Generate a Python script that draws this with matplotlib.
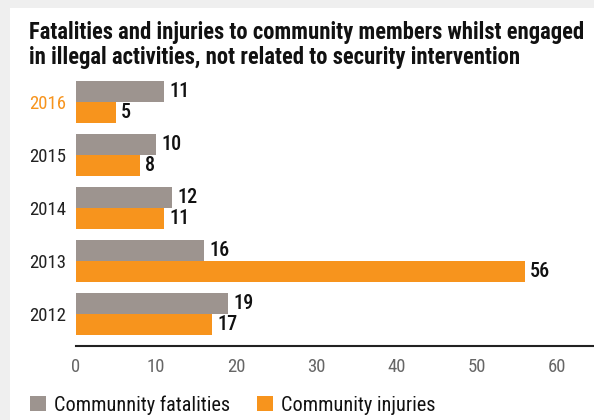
import matplotlib
matplotlib.use("Agg")
import matplotlib.pyplot as plt
from matplotlib.patches import Rectangle
import numpy as np

plt.rcParams.update({"font.family": ["Roboto Condensed", "DejaVu Sans"], "font.size": 12})

YEARS = ["2012", "2013", "2014", "2015", "2016"]
FATAL = [19, 16, 12, 10, 11]
INJUR = [17, 56, 11, 8, 5]
LABELS = ["Communnity fatalities", "Community injuries"]
GREY, ORANGE = "#9d948f", "#f7941d"

fig = plt.figure(figsize=(5.94, 4.2), dpi=100, facecolor="#efefef")
fig.patches.append(Rectangle((10/594, 0), 1, 412/420, transform=fig.transFigure,
                             facecolor="white", edgecolor="none", zorder=-5))

ax = fig.add_axes([76/594, (420-346)/420, 518/594, 266/420], zorder=2)
ax.set_facecolor("none")
y = np.arange(len(YEARS)); h = 0.4
b1 = ax.barh(y + h/2, FATAL, height=h, color=GREY, label=LABELS[0])
b2 = ax.barh(y - h/2, INJUR, height=h, color=ORANGE, label=LABELS[1])
for bars, vals in ((b1, FATAL), (b2, INJUR)):
    for b, v in zip(bars, vals):
        ax.annotate(str(v), (v, b.get_y() + b.get_height()/2), xytext=(3.5, 0), textcoords="offset points",
                    va="center", ha="left", fontsize=14.5, color="#111", fontweight="medium")

ax.set_xlim(0, 64.6); ax.set_ylim(-0.6, 4.42)
ax.set_xticks(range(0, 61, 10))
ax.set_yticks(y, YEARS)
ax.tick_params(axis="x", length=0, pad=9, labelsize=13.5, labelcolor="#666")
ax.tick_params(axis="y", length=0, pad=7, labelsize=13.5, labelcolor="#222")
ax.get_yticklabels()[-1].set_color(ORANGE)
for s in ("top", "right", "left"): ax.spines[s].set_visible(False)
ax.spines["bottom"].set_color("#222"); ax.spines["bottom"].set_linewidth(1.5)

fig.text(29/594, (420-21)/420, "Fatalities and injuries to community members whilst engaged\nin illegal activities, not related to security intervention",
         ha="left", va="top", fontsize=16.3, fontweight="bold", color="#111", linespacing=1.1)

fig.legend(handles=[b1, b2], loc="center left", bbox_to_anchor=(30/594, (420-405)/420), ncol=2,
           frameon=False, fontsize=14.6, handlelength=0.8, handleheight=0.8, handletextpad=0.4,
           columnspacing=1.3, borderpad=0, borderaxespad=0, labelcolor="#111")

fig.savefig("out.png", dpi=100, facecolor=fig.get_facecolor())
